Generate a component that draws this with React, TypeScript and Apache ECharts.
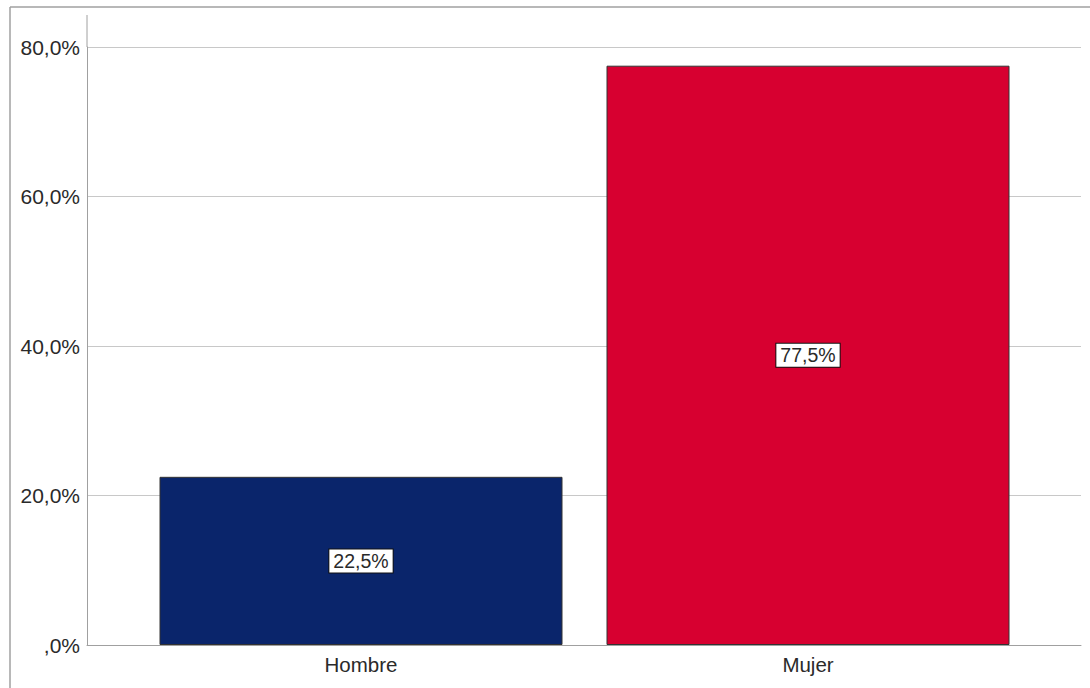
import React, { useEffect, useRef } from "react";
import * as echarts from "echarts";

const categories = ["Hombre", "Mujer"];
const values = [22.5, 77.5];
const barColors = ["#0a256b", "#d70030"];
const yTicks = [0, 20, 40, 60, 80];

const fmt = (v: number) => {
  const s = v.toFixed(1).replace(".", ",");
  return (s.startsWith("0,") ? s.slice(1) : s) + "%";
};

export default function App() {
  const ref = useRef<HTMLDivElement>(null);
  useEffect(() => {
    if (!ref.current) return;
    const chart = echarts.init(ref.current, null, { renderer: "svg" });
    const font = "Arial, 'Liberation Sans', sans-serif";
    chart.setOption({
      animation: false,
      backgroundColor: "#ffffff",
      grid: [
        { left: 87, right: 9, top: 47, bottom: 43 },
        { left: 137.5, right: 58.5, top: 47, bottom: 43 },
      ],
      xAxis: [
        {
          gridIndex: 0,
          type: "value",
          min: 0,
          max: 1,
          axisLine: { show: true, onZero: false, lineStyle: { color: "#a0a0a0", width: 1 } },
          axisTick: { show: false },
          axisLabel: { show: false },
          splitLine: { show: false },
        },
        {
          gridIndex: 1,
          type: "category",
          data: categories,
          axisLine: { show: false },
          axisTick: { show: false },
          axisLabel: { color: "#2a2a2a", fontSize: 20.5, fontFamily: font, margin: 9 },
        },
      ],
      yAxis: [
        {
          gridIndex: 0,
          type: "value",
          min: yTicks[0],
          max: yTicks[yTicks.length - 1],
          interval: 20,
          axisLine: { show: true, lineStyle: { color: "#a0a0a0", width: 1 } },
          axisTick: { show: false },
          axisLabel: {
            color: "#2a2a2a",
            fontSize: 21,
            fontFamily: font,
            margin: 7,
            formatter: (v: number) => fmt(v),
          },
          splitLine: { show: true, lineStyle: { color: "#c8c8c8", width: 1 } },
        },
        {
          gridIndex: 1,
          type: "value",
          min: yTicks[0],
          max: yTicks[yTicks.length - 1],
          show: false,
        },
      ],
      graphic: [
        { type: "line", shape: { x1: 87, y1: 15, x2: 87, y2: 47 }, style: { stroke: "#a0a0a0", lineWidth: 1 } },
        { type: "line", shape: { x1: 10, y1: 7, x2: 1090, y2: 7 }, style: { stroke: "#a0a0a0", lineWidth: 1.5 } },
        { type: "line", shape: { x1: 10, y1: 7, x2: 10, y2: 688 }, style: { stroke: "#a0a0a0", lineWidth: 1.5 } },
      ],
      series: [
        {
          type: "bar",
          xAxisIndex: 1,
          yAxisIndex: 1,
          barWidth: 403,
          data: values.map((v, i) => ({ value: v, itemStyle: { color: barColors[i] } })),
          itemStyle: { borderColor: "#333", borderWidth: 1 },
          label: {
            show: true,
            position: "inside",
            formatter: (p: any) => fmt(p.value),
            color: "#2a2a2a",
            fontSize: 19.5,
            fontFamily: font,
            backgroundColor: "#ffffff",
            borderColor: "#111",
            borderWidth: 1,
            padding: [2, 4, 1, 4],
          },
        },
      ],
    });
    return () => chart.dispose();
  }, []);
  return (
    <div
      ref={ref}
      style={{ position: "fixed", left: 0, top: 0, width: 1090, height: 688 }}
    />
  );
}
